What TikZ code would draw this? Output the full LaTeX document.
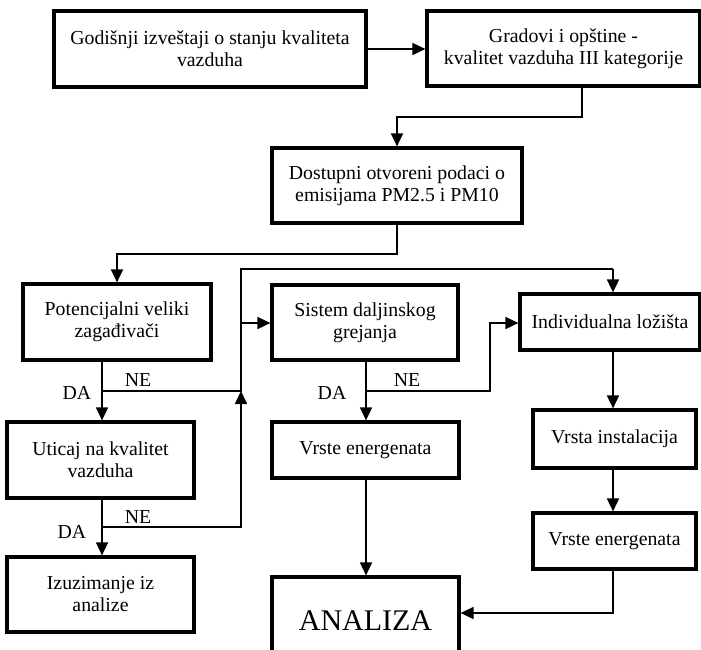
\documentclass[tikz,border=0pt]{standalone}
\usepackage{fontspec}
\setmainfont{Liberation Serif}
\usetikzlibrary{arrows.meta}
\begin{document}
\begin{tikzpicture}[x=1pt,y=-1pt,
  box/.style={draw=black, line width=3.2pt, inner sep=0pt, align=center,
    font=\fontsize{19.8}{22}\selectfont},
  conn/.style={line width=1.7pt, -{Triangle[length=13pt,width=12pt]}},
  plain/.style={line width=1.7pt},
  lbl/.style={inner sep=0pt, font=\fontsize{19.8}{22}\selectfont}]
\useasboundingbox (0,0) rectangle (701,650);
\clip (0,0) rectangle (701,650);
\fill[white] (0,0) rectangle (701,650);
% boxes
\node[box, minimum width=312pt, minimum height=76pt] (b1) at (210,49) {Godišnji izveštaji o stanju kvaliteta\\vazduha};
\node[box, minimum width=273pt, minimum height=75pt] (b2) at (563.5,48.5) {Gradovi i opštine -\\kvalitet vazduha III kategorije};
\node[box, minimum width=250pt, minimum height=75pt] (b3) at (397,185.5) {Dostupni otvoreni podaci o\\emisijama PM2.5 i PM10};
\node[box, minimum width=188pt, minimum height=76pt] (b4) at (117,322) {Potencijalni veliki\\zagađivači};
\node[box, minimum width=187pt, minimum height=76pt] (b5) at (100.5,460) {Uticaj na kvalitet\\vazduha};
\node[box, minimum width=187pt, minimum height=75pt] (b8) at (100.5,594.5) {Izuzimanje iz\\analize};
\node[box, minimum width=186pt, minimum height=75pt] (b6) at (365,322.5) {Sistem daljinskog\\grejanja};
\node[box, minimum width=180pt, minimum height=56pt] (b7) at (610,322) {Individualna ložišta};
\node[box, minimum width=187pt, minimum height=56pt] (b9) at (365.5,450) {Vrste energenata};
\node[box, minimum width=163pt, minimum height=58pt] (b10) at (614.5,439) {Vrsta instalacija};
\node[box, minimum width=163pt, minimum height=56pt] (b11) at (614.5,541) {Vrste energenata};
\node[box, minimum width=187pt, minimum height=88pt, font=\fontsize{30}{32}\selectfont] (b12) at (365.5,621) {ANALIZA};
% junction coordinates
\coordinate (j1) at (582,117);
\coordinate (j2) at (397,117);
\coordinate (j3) at (397,254);
\coordinate (j4) at (117,254);
\coordinate (d1) at (102,391);
\coordinate (d2) at (102,527);
\coordinate (d3) at (366,391);
\coordinate (k1) at (241,391);
\coordinate (k2) at (241,269);
\coordinate (k3) at (613,269);
\coordinate (k4) at (241,323);
\coordinate (k5) at (241,527);
\coordinate (k6) at (490,391);
\coordinate (k7) at (490,323);
\coordinate (k8) at (613,613);
% connectors
\draw[conn] (b1.east) -- (b2.west |- b1.east);
\draw[conn] (b2.south -| j1) -- (j1) -- (j2) -- (b3.north -| j2);
\draw[conn] (b3.south -| j3) -- (j3) -- (j4) -- (b4.north);
\draw[conn] (b4.south -| d1) -- (b5.north -| d1);
\draw[plain] (d1) -- (k1) -- (k2) -- (k3);
\draw[conn] (k3) -- (b7.north -| k3);
\draw[conn] (k4) -- (b6.west |- k4);
\draw[conn] (b5.south -| d2) -- (b8.north -| d2);
\draw[conn] (d2) -- (k5) -- (k1);
\draw[conn] (b6.south -| d3) -- (b9.north -| d3);
\draw[conn] (d3) -- (k6) -- (k7) -- (b7.west |- k7);
\draw[conn] (b7.south -| k3) -- (b10.north -| k3);
\draw[conn] (b10.south -| k3) -- (b11.north -| k3);
\draw[conn] (b11.south -| k8) -- (k8) -- (b12.east |- k8);
\draw[conn] (b9.south -| d3) -- (b12.north -| d3);
% labels
\node[lbl] (da1) at (77,393) {DA};
\node[lbl] (ne1) at (138,380) {NE};
\node[lbl] (da2) at (72,532) {DA};
\node[lbl] (ne2) at (138,517) {NE};
\node[lbl] (da3) at (332,393) {DA};
\node[lbl] (ne3) at (407,380) {NE};
\end{tikzpicture}
\end{document}
